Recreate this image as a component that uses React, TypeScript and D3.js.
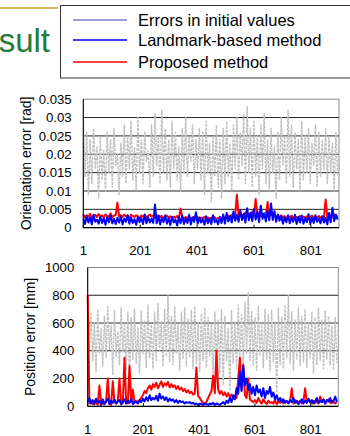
import React from "react";
import * as d3 from "d3";

// x index of each sample: 1, 7, 13, ... (every 6th frame)
const STEP = 6;

// Orientation error [mrad]
const orientInitial = [
  31, 14, 26, 9, 24, 12, 27, 16, 22, 8,
  25, 13, 21, 10, 26, 15, 24, 11, 27, 17,
  20, 9, 23, 14, 28, 12, 25, 16, 29, 13,
  22, 10, 30, 15, 24, 12, 26, 18, 21, 11,
  28, 14, 31, 17, 25, 12, 32, 15, 27, 13,
  24, 11, 29, 16, 26, 13, 22, 10, 27, 15,
  30, 14, 25, 18, 28, 12, 24, 16, 27, 13,
  26, 9, 29, 15, 23, 7, 25, 14, 28, 11,
  24, 8, 27, 12, 29, 14, 23, 10, 28, 16,
  30, 13, 26, 17, 31, 12, 33, 15, 27, 11,
  29, 14, 25, 9, 28, 16, 31, 12, 24, 10,
  27, 15, 22, 8, 26, 13, 30, 17, 25, 12,
  32, 14, 28, 11, 26, 16, 24, 10, 29, 13,
  25, 15, 27, 12, 23, 17, 28, 11, 26, 14,
  24, 16, 27, 12, 25, 15, 23, 10, 26, 14,
];
const orientProposed = [
  3.6, 2.8, 3.4, 3.0, 3.8, 2.6, 3.3, 3.5, 2.9, 3.7,
  3.1, 3.4, 2.7, 3.6, 3.2, 3.0, 3.9, 2.8, 3.3, 3.5,
  6.8, 3.0, 3.4, 2.9, 3.6, 3.1, 3.3, 2.7, 3.5, 3.2,
  2.9, 3.4, 3.1, 2.6, 3.3, 3.0, 3.5, 2.8, 3.2, 3.6,
  3.0, 3.3, 2.7, 3.1, 3.4, 2.9, 3.2, 2.6, 3.0, 3.3,
  2.8, 3.1, 2.5, 3.0, 2.7, 3.2, 2.6, 5.2, 2.8, 2.4,
  2.9, 2.6, 3.1, 2.4, 2.8, 3.0, 2.5, 2.9, 2.3, 2.7,
  2.6, 3.0, 2.4, 2.8, 2.2, 2.7, 2.5, 2.9, 2.3, 2.6,
  2.8, 2.4, 3.1, 2.6, 2.9, 3.3, 2.7, 3.5, 3.0, 3.4,
  9.0, 3.2, 4.0, 3.1, 3.6, 4.2, 3.3, 3.8, 3.0, 4.4,
  3.5, 7.8, 3.4, 4.1, 3.2, 3.7, 3.0, 3.6, 7.0, 3.3,
  3.9, 3.1, 3.5, 2.8, 3.3, 2.9, 3.4, 2.7, 3.2, 2.6,
  3.0, 2.8, 3.3, 2.5, 3.1, 2.9, 2.6, 3.2, 2.8, 3.0,
  2.7, 3.1, 2.5, 2.9, 3.3, 2.6, 3.0, 2.8, 3.2, 2.7,
  3.0, 2.6, 7.7, 2.9, 3.4, 2.8, 3.1, 3.6, 2.9, 3.3,
];
const orientLandmark = [
  2.5, 1.0, 3.2, 1.4, 2.8, 0.9, 3.5, 1.6, 2.2, 1.1,
  3.0, 1.3, 2.6, 0.8, 2.9, 1.5, 3.3, 1.2, 2.4, 1.0,
  2.7, 1.4, 3.1, 0.9, 2.5, 1.6, 3.4, 1.1, 2.8, 1.3,
  2.3, 0.8, 3.0, 1.5, 2.6, 1.0, 3.6, 1.2, 2.9, 1.4,
  2.4, 1.3, 6.3, 1.2, 3.2, 0.9, 2.7, 1.5, 3.4, 1.1,
  2.6, 0.7, 3.0, 1.4, 2.2, 0.6, 2.9, 1.2, 3.3, 1.0,
  2.5, 1.3, 3.5, 0.9, 2.7, 1.6, 4.2, 1.1, 2.8, 1.4,
  2.3, 0.8, 3.1, 1.2, 2.6, 1.0, 3.4, 1.5, 2.1, 0.9,
  2.9, 1.3, 3.6, 1.1, 4.0, 1.7, 3.2, 1.4, 4.4, 1.9,
  3.5, 1.6, 4.8, 2.1, 3.8, 1.4, 5.3, 2.0, 4.1, 1.8,
  5.0, 2.2, 4.3, 1.5, 6.0, 2.4, 3.9, 1.7, 4.6, 2.0,
  6.6, 2.1, 4.5, 1.6, 3.6, 1.9, 3.2, 1.1, 2.8, 1.5,
  3.4, 1.2, 2.7, 1.6, 3.5, 1.0, 2.9, 1.4, 3.3, 1.1,
  2.6, 1.5, 3.7, 1.0, 2.8, 1.3, 3.4, 1.6, 2.5, 1.2,
  3.1, 1.4, 2.7, 0.9, 4.0, 1.5, 5.4, 1.8, 3.6, 2.2,
];

// Position error [mm]
const posInitial = [
  790, 420, 680, 330, 610, 250, 700, 380, 560, 290,
  650, 350, 720, 410, 580, 230, 690, 360, 540, 300,
  710, 390, 600, 260, 680, 200, 640, 340, 700, 310,
  570, 240, 690, 380, 620, 280, 730, 350, 590, 270,
  680, 330, 740, 400, 610, 290, 700, 360, 800, 320,
  650, 300, 720, 380, 590, 260, 680, 340, 710, 290,
  630, 350, 690, 270, 720, 310, 600, 250, 670, 330,
  710, 280, 640, 360, 590, 200, 680, 300, 620, 240,
  700, 150, 650, 330, 560, 110, 690, 310, 610, 270,
  730, 350, 660, 290, 750, 380, 820, 330, 690, 300,
  640, 260, 720, 370, 600, 280, 700, 340, 660, 250,
  690, 320, 610, 100, 710, 300, 640, 270, 730, 350,
  800, 310, 680, 260, 620, 340, 710, 290, 650, 320,
  700, 280, 600, 350, 680, 240, 640, 300, 710, 330,
  620, 270, 690, 340, 650, 300, 580, 260, 640, 310,
];
const posProposed = [
  800, 20, 35, 15, 40, 25, 10, 150, 30, 20,
  15, 35, 200, 25, 10, 180, 30, 20, 40, 200,
  15, 25, 350, 30, 20, 290, 35, 120, 25, 40,
  30, 45, 60, 80, 110, 95, 130, 150, 120, 160,
  140, 170, 130, 155, 180, 140, 165, 150, 175, 135,
  160, 140, 150, 125, 145, 120, 135, 110, 125, 100,
  115, 95, 105, 85, 90, 280, 75, 60, 40, 25,
  15, 30, 60, 85, 110, 220, 95, 400, 120, 90,
  110, 80, 100, 70, 95, 65, 85, 55, 75, 60,
  200, 350, 120, 300, 80, 60, 200, 50, 40, 30,
  45, 25, 60, 35, 20, 50, 30, 15, 40, 25,
  30, 20, 45, 15, 35, 25, 50, 20, 40, 30,
  25, 35, 130, 20, 45, 25, 30, 40, 20, 35,
  130, 25, 45, 30, 20, 40, 25, 35, 20, 70,
  30, 45, 20, 35, 50, 25, 40, 30, 20, 35,
];
const posLandmark = [
  30, 60, 20, 45, 15, 55, 25, 40, 10, 50,
  20, 35, 55, 15, 40, 25, 50, 20, 35, 45,
  15, 30, 50, 20, 40, 25, 55, 15, 35, 30,
  20, 45, 30, 55, 35, 65, 40, 80, 45, 60,
  50, 75, 40, 90, 55, 70, 45, 65, 35, 55,
  40, 50, 30, 45, 25, 40, 30, 35, 20, 30,
  25, 30, 20, 25, 15, 20, 10, 20, 15, 10,
  20, 15, 10, 20, 15, 25, 10, 20, 15, 10,
  20, 30, 15, 40, 25, 60, 30, 80, 50, 130,
  90, 250, 110, 290, 150, 200, 120, 160, 90, 140,
  80, 150, 100, 120, 70, 130, 60, 110, 90, 140,
  70, 100, 50, 80, 40, 60, 30, 50, 25, 40,
  20, 45, 30, 60, 25, 40, 15, 35, 50, 20,
  40, 25, 55, 30, 45, 20, 35, 60, 25, 40,
  30, 50, 20, 45, 35, 60, 25, 40, 70, 30,
];

const xTicks = [1, 201, 401, 601, 801];
const orientTicks = [0, 0.005, 0.01, 0.015, 0.02, 0.025, 0.03, 0.035];
const posTicks = [0, 200, 400, 600, 800, 1000];

const legendItems = [
  { label: "Errors in initial values", color: "#7f7fc4" },
  { label: "Landmark-based method", color: "#0000ff" },
  { label: "Proposed method", color: "#ff0000" },
];

const FONT = "'Liberation Sans', Arial, sans-serif";

type Series = { values: number[]; color: string; width: number; dash?: string };

function Panel(props: {
  left: number; right: number; top: number; bottom: number;
  yMax: number; ticks: number[]; tickFmt: (v: number) => string;
  labelRight: number; xLabelY: number; title: string; titleX: number;
  series: Series[]; scale: number;
}) {
  const { left, right, top, bottom, yMax, ticks, tickFmt, labelRight, xLabelY, title, titleX, series, scale } = props;
  const x = d3.scaleLinear().domain([1, 900]).range([left, right]);
  const y = d3.scaleLinear().domain([0, yMax]).range([bottom, top]);
  const line = d3.line<number>()
    .x((_, i) => x(1 + i * STEP))
    .y((d) => y(Math.min(d * scale, yMax)));
  return (
    <g>
      {ticks.filter((t) => t > 0 && t < yMax).map((t) => (
        <line key={t} x1={left} x2={right} y1={y(t)} y2={y(t)} stroke="#222" strokeWidth={1} />
      ))}
      <rect x={left} y={top} width={right - left} height={bottom - top} fill="none" stroke="#8c8c8c" strokeWidth={1} />
      {series.map((s, k) => (
        <path key={k} d={line(s.values) || ""} fill="none" stroke={s.color} strokeWidth={s.width}
          strokeDasharray={s.dash} strokeLinejoin="round" />
      ))}
      <line x1={left} x2={left} y1={top} y2={bottom} stroke="#000" strokeWidth={1} />
      <line x1={left} x2={right} y1={bottom} y2={bottom} stroke="#000" strokeWidth={1.2} />
      {xTicks.map((t) => (
        <line key={t} x1={x(t)} x2={x(t)} y1={bottom} y2={bottom - 3} stroke="#000" />
      ))}
      {ticks.map((t) => (
        <text key={t} x={labelRight} y={y(t)} dy="0.35em" textAnchor="end" fontSize={13.2} fontFamily={FONT} fill="#000">
          {tickFmt(t)}
        </text>
      ))}
      {xTicks.map((t) => (
        <text key={t} x={x(t)} y={xLabelY} dy="0.35em" textAnchor="middle" fontSize={13.2} fontFamily={FONT} fill="#000">
          {t}
        </text>
      ))}
      <text transform={`translate(${titleX},${(top + bottom) / 2}) rotate(-90)`} textAnchor="middle" dy="0.35em"
        fontSize={14} fontFamily={FONT} fill="#000">
        {title}
      </text>
    </g>
  );
}

export default function App() {
  const gray = "#c0c0c0";
  return (
    <svg width={350} height={436} style={{ position: "absolute", left: 0, top: 0, background: "#fff" }}>
      <line x1={0} x2={58} y1={8} y2={8} stroke="#c9a227" strokeWidth={1.5} />
      <text x={50} y={52} textAnchor="end" fontSize={33} fontFamily={FONT} fill="#237a3a">sult</text>
      <rect x={60.5} y={5.5} width={300} height={72.5} fill="#fff" stroke="#333" strokeWidth={1} />
      {legendItems.map((it, i) => {
        const cy = [20, 40, 62][i];
        return (
          <g key={it.label}>
            <line x1={73} x2={127} y1={cy} y2={cy} stroke={it.color} strokeWidth={1.5} />
            <text x={138} y={cy} dy="0.35em" fontSize={16.5} fontFamily={FONT} fill="#000">{it.label}</text>
          </g>
        );
      })}
      <Panel left={83.3} right={339} top={99.2} bottom={227.7} yMax={0.035} ticks={orientTicks}
        tickFmt={(v) => (v === 0 ? "0" : String(+v.toFixed(3)))} labelRight={71.7} xLabelY={250}
        title="Orientation error [rad]" titleX={26} scale={0.001}
        series={[
          { values: orientInitial, color: gray, width: 1.4, dash: "3,1" },
          { values: orientProposed, color: "#ff0000", width: 2 },
          { values: orientLandmark, color: "#0000ff", width: 2 },
        ]} />
      <Panel left={87.7} right={338.3} top={267.5} bottom={406.3} yMax={1000} ticks={posTicks}
        tickFmt={(v) => String(v)} labelRight={74.3} xLabelY={429.3}
        title="Position error [mm]" titleX={30} scale={1}
        series={[
          { values: posInitial, color: gray, width: 1.4, dash: "3,1" },
          { values: posProposed, color: "#ff0000", width: 2 },
          { values: posLandmark, color: "#0000ff", width: 2 },
        ]} />
    </svg>
  );
}
